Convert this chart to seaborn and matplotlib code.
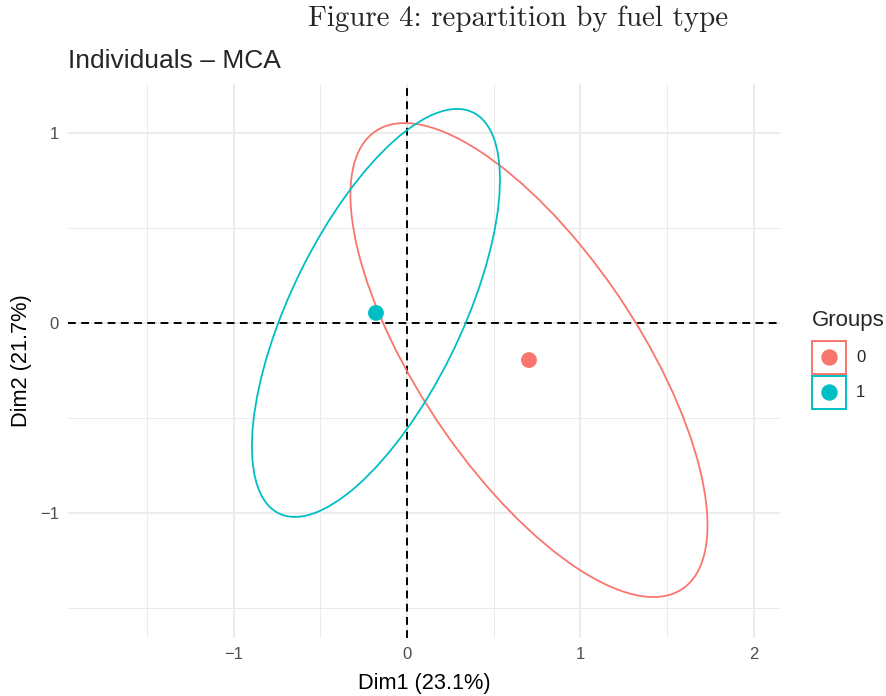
import numpy as np
import pandas as pd
import seaborn as sns
import matplotlib.pyplot as plt
from matplotlib.patches import Ellipse, Rectangle
from matplotlib.lines import Line2D
from matplotlib.legend_handler import HandlerBase
from matplotlib.ticker import MultipleLocator

# group means (Dim1, Dim2)
groups = ["0", "1"]
dim1_mean = [0.703, -0.179]
dim2_mean = [-0.195, 0.053]

# scaled covariance of each group's ellipse
ell_sxx = [1.059, 0.511]
ell_syy = [1.556, 1.153]
ell_sxy = [-0.895, 0.502]

x_ticks = [-1, 0, 1, 2]
y_ticks = [-1, 0, 1]
palette = {"0": "#F8766D", "1": "#00BFC4"}

df = pd.DataFrame({"Dim1": dim1_mean, "Dim2": dim2_mean, "Groups": groups})

sns.set_theme(style="whitegrid")
plt.rcParams['font.family'] = ['Liberation Sans', 'DejaVu Sans']

fig = plt.figure(figsize=(8.87, 6.96), dpi=100)
ax = fig.add_axes([68 / 887, 1 - 638 / 696, 712 / 887, 554 / 696])

# ellipses from covariance
for g, sxx, syy, sxy, mx, my in zip(groups, ell_sxx, ell_syy, ell_sxy, dim1_mean, dim2_mean):
    vals, vecs = np.linalg.eigh(np.array([[sxx, sxy], [sxy, syy]]))
    angle = np.degrees(np.arctan2(vecs[1, 1], vecs[0, 1]))
    e = Ellipse((mx, my), 2 * np.sqrt(vals[1]), 2 * np.sqrt(vals[0]), angle=angle,
                fill=False, edgecolor=palette[g], lw=1.3, zorder=3)
    ax.add_patch(e)

ax.axhline(0, color="black", ls=(0, (4, 2.8)), lw=1.4, zorder=2)
ax.axvline(0, color="black", ls=(0, (4, 2.8)), lw=1.4, zorder=2)

sns.scatterplot(data=df, x="Dim1", y="Dim2", hue="Groups", palette=palette,
                s=130, edgecolor="none", legend=False, ax=ax, zorder=4)

ax.set_xlim(-1.954, 2.150)
ax.set_ylim(-1.658, 1.258)
ax.set_xticks(x_ticks)
ax.set_yticks(y_ticks)
ax.xaxis.set_minor_locator(MultipleLocator(0.5))
ax.yaxis.set_minor_locator(MultipleLocator(0.5))
ax.grid(which="major", color="#EBEBEB", lw=1.3)
ax.grid(which="minor", color="#EBEBEB", lw=0.7)
ax.set_axisbelow(True)
for s in ax.spines.values():
    s.set_visible(False)
ax.tick_params(which="major", length=3.5, width=1.2, color="#222222",
               labelcolor="#4D4D4D", labelsize=12, pad=3)
ax.tick_params(which="minor", length=0)
ax.set_xlabel("Dim1 (23.1%)", fontsize=15.7, color="black", labelpad=8)
ax.set_ylabel("Dim2 (21.7%)", fontsize=15.7, color="black", labelpad=6)

fig.text(68 / 887, 1 - 61 / 696, "Individuals \u2013 MCA", fontsize=19,
         ha="left", va="center")
fig.text(518 / 887, 1 - 19 / 696, "Figure 4: repartition by fuel type",
         family="cmr10", fontsize=20.9, ha="center", va="center")


class BoxedDot(HandlerBase):
    def create_artists(self, legend, orig_handle, xdescent, ydescent, width, height, fontsize, trans):
        c = orig_handle.get_color()
        box = Rectangle((-xdescent, -ydescent), width, height, facecolor="white",
                        edgecolor=c, lw=1.4, transform=trans)
        dot = Line2D([width / 2 - xdescent], [height / 2 - ydescent], marker="o", ls="",
                     color=c, ms=10.8, transform=trans)
        return [box, dot]


handles = [Line2D([], [], color=palette[g]) for g in groups]
leg = fig.legend(handles, groups, title="Groups", loc="upper left",
                 bbox_to_anchor=(812 / 887, 1 - 310 / 696), frameon=False,
                 fontsize=12, title_fontsize=16, handler_map={Line2D: BoxedDot()},
                 handlelength=2.04, handleheight=2.67, labelspacing=0.12,
                 handletextpad=0.6, borderpad=0, borderaxespad=0, alignment="left")
leg._legend_box.sep = 7

plt.savefig("out.png", dpi=100)
plt.close()
